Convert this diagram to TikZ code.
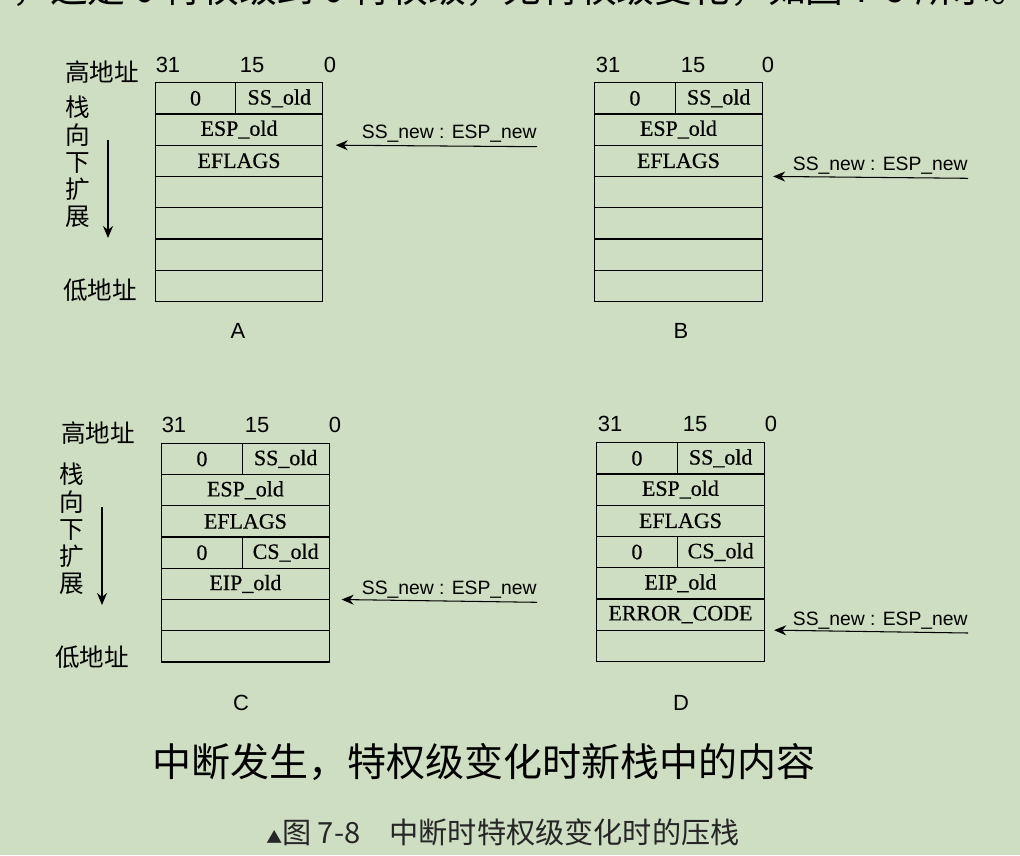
\documentclass[tikz,border=0pt]{standalone}
\usepackage{fontspec}
\setmainfont{Liberation Serif}
\setsansfont{Liberation Sans}
\newfontfamily\cjkfont{Noto Sans CJK SC}
\newfontfamily\cellfont[FakeBold=0.5]{Liberation Serif}
\usetikzlibrary{arrows.meta, positioning}
\definecolor{pagegreen}{RGB}{206,222,194}

\begin{document}
\begin{tikzpicture}[x=0.02cm, y=-0.02cm,
  cell/.style={draw, line width=0.7pt, minimum height=0.625cm, inner sep=0pt, outer sep=0pt, font=\cellfont\fontsize{12.5}{12.5}\selectfont},
  full/.style={cell, minimum width=3.35cm},
  lowhalf/.style={cell, minimum width=1.61cm},
  highhalf/.style={cell, minimum width=1.74cm},
  bits/.style={font=\sffamily\fontsize{12.5}{12.5}\selectfont},
  addr/.style={font=\cjkfont\fontsize{14}{15.5}\selectfont, align=center},
  ptr/.style={-{Stealth[length=0.24cm, width=0.2cm]}, line width=0.6pt},
  ptrlabel/.style={font=\sffamily\fontsize{11}{11}\selectfont, anchor=base east, inner xsep=0pt},
  panel/.style={font=\sffamily\fontsize{12.5}{12.5}\selectfont}
]

% page background
\fill[pagegreen] (0,0) rectangle (1020,855);

% cut-off line of body text
\begin{scope}
\clip (0,0) rectangle (1020,855);
\node[font=\cjkfont\fontsize{21.5}{21.5}\selectfont, anchor=base west, inner sep=0pt] (bodyline) at (12,3) {，这是 0 特权级到 0 特权级，无特权级变化，如图 7-9 所示。};
\end{scope}

% ---- A ----
\node[bits] (aBit31) at (168,65) {31};
\node[bits] (aBit15) at (252,65) {15};
\node[bits] (aBit0) at (330,65) {0};
\node[addr] (aHigh) at (102,72) {高地址};
\node[addr] (aGrow) at (78,162) {栈\\向\\下\\扩\\展};
\node[addr] (aLowAddr) at (100,290) {低地址};
\coordinate (aDownFrom) at (108,140);
\coordinate (aDownTo) at (108,238);
\draw[ptr] (aDownFrom) -- (aDownTo);

\node[lowhalf, anchor=north west] (aZero) at (155.3,82.7) {0};
\node[highhalf, right=0pt of aZero] (aSS) {SS\_old};
\node[full, anchor=north west] (aESP) at (aZero.south west) {ESP\_old};
\node[full, below=0pt of aESP] (aFlags) {EFLAGS};
\node[full, below=0pt of aFlags] (aFree1) {};
\node[full, below=0pt of aFree1] (aFree2) {};
\node[full, below=0pt of aFree2] (aFree3) {};
\node[full, below=0pt of aFree3] (aFree4) {};

\coordinate (aFrom) at (537,146.7);
\coordinate (aTip) at ([xshift=0.26cm]aESP.south east);
\draw[ptr] (aFrom) -- (aTip);
\node[ptrlabel] (aNew) at ([yshift=0.16cm]aFrom) {SS\_new : ESP\_new};
\node[panel] (aName) at (238,331) {A};

% ---- B ----
\node[bits] (bBit31) at (608,65) {31};
\node[bits] (bBit15) at (693,65) {15};
\node[bits] (bBit0) at (768,65) {0};

\node[lowhalf, anchor=north west] (bZero) at (594.7,82.7) {0};
\node[highhalf, right=0pt of bZero] (bSS) {SS\_old};
\node[full, anchor=north west] (bESP) at (bZero.south west) {ESP\_old};
\node[full, below=0pt of bESP] (bFlags) {EFLAGS};
\node[full, below=0pt of bFlags] (bFree1) {};
\node[full, below=0pt of bFree1] (bFree2) {};
\node[full, below=0pt of bFree2] (bFree3) {};
\node[full, below=0pt of bFree3] (bFree4) {};

\coordinate (bFrom) at (968,178.3);
\coordinate (bTip) at ([xshift=0.22cm]bFlags.south east);
\draw[ptr] (bFrom) -- (bTip);
\node[ptrlabel] (bNew) at ([yshift=0.16cm]bFrom) {SS\_new : ESP\_new};
\node[panel] (bName) at (681,331) {B};

% ---- C ----
\node[bits] (cBit31) at (174,425) {31};
\node[bits] (cBit15) at (257,425) {15};
\node[bits] (cBit0) at (335,425) {0};
\node[addr] (cHigh) at (98,433) {高地址};
\node[addr] (cGrow) at (72,529) {栈\\向\\下\\扩\\展};
\node[addr] (cLowAddr) at (92,657) {低地址};
\coordinate (cDownFrom) at (102,507);
\coordinate (cDownTo) at (102,605);
\draw[ptr] (cDownFrom) -- (cDownTo);

\node[lowhalf, anchor=north west] (cZero) at (161.7,443.3) {0};
\node[highhalf, right=0pt of cZero] (cSS) {SS\_old};
\node[full, anchor=north west] (cESP) at (cZero.south west) {ESP\_old};
\node[full, below=0pt of cESP] (cFlags) {EFLAGS};
\node[lowhalf, anchor=north west] (cZeroCS) at (cFlags.south west) {0};
\node[highhalf, right=0pt of cZeroCS] (cCS) {CS\_old};
\node[full, anchor=north west] (cEIP) at (cZeroCS.south west) {EIP\_old};
\node[full, below=0pt of cEIP] (cFree1) {};
\node[full, below=0pt of cFree1] (cFree2) {};

\coordinate (cFrom) at (537,602.3);
\coordinate (cTip) at ([xshift=0.25cm]cEIP.south east);
\draw[ptr] (cFrom) -- (cTip);
\node[ptrlabel] (cNew) at ([yshift=0.16cm]cFrom) {SS\_new : ESP\_new};
\node[panel] (cName) at (241,703) {C};

% ---- D ----
\node[bits] (dBit31) at (610,424) {31};
\node[bits] (dBit15) at (695,424) {15};
\node[bits] (dBit0) at (771,424) {0};

\node[lowhalf, anchor=north west] (dZero) at (596.7,442.7) {0};
\node[highhalf, right=0pt of dZero] (dSS) {SS\_old};
\node[full, anchor=north west] (dESP) at (dZero.south west) {ESP\_old};
\node[full, below=0pt of dESP] (dFlags) {EFLAGS};
\node[lowhalf, anchor=north west] (dZeroCS) at (dFlags.south west) {0};
\node[highhalf, right=0pt of dZeroCS] (dCS) {CS\_old};
\node[full, anchor=north west] (dEIP) at (dZeroCS.south west) {EIP\_old};
\node[full, below=0pt of dEIP] (dErr) {ERROR\_CODE};
\node[full, below=0pt of dErr] (dFree1) {};

\coordinate (dFrom) at (968,633);
\coordinate (dTip) at ([xshift=0.2cm]dErr.south east);
\draw[ptr] (dFrom) -- (dTip);
\node[ptrlabel] (dNew) at ([yshift=0.16cm]dFrom) {SS\_new : ESP\_new};
\node[panel] (dName) at (681,703) {D};

% titles
\node[font=\cjkfont\fontsize{22.2}{22.2}\selectfont] (title) at (484,762) {中断发生，特权级变化时新栈中的内容};
\node[font=\cjkfont\fontsize{16.6}{16.6}\selectfont, text=black!85] (caption) at (503,832) {{\fontsize{9}{9}\selectfont ▲}图 7-8　中断时特权级变化时的压栈};

\end{tikzpicture}
\end{document}
